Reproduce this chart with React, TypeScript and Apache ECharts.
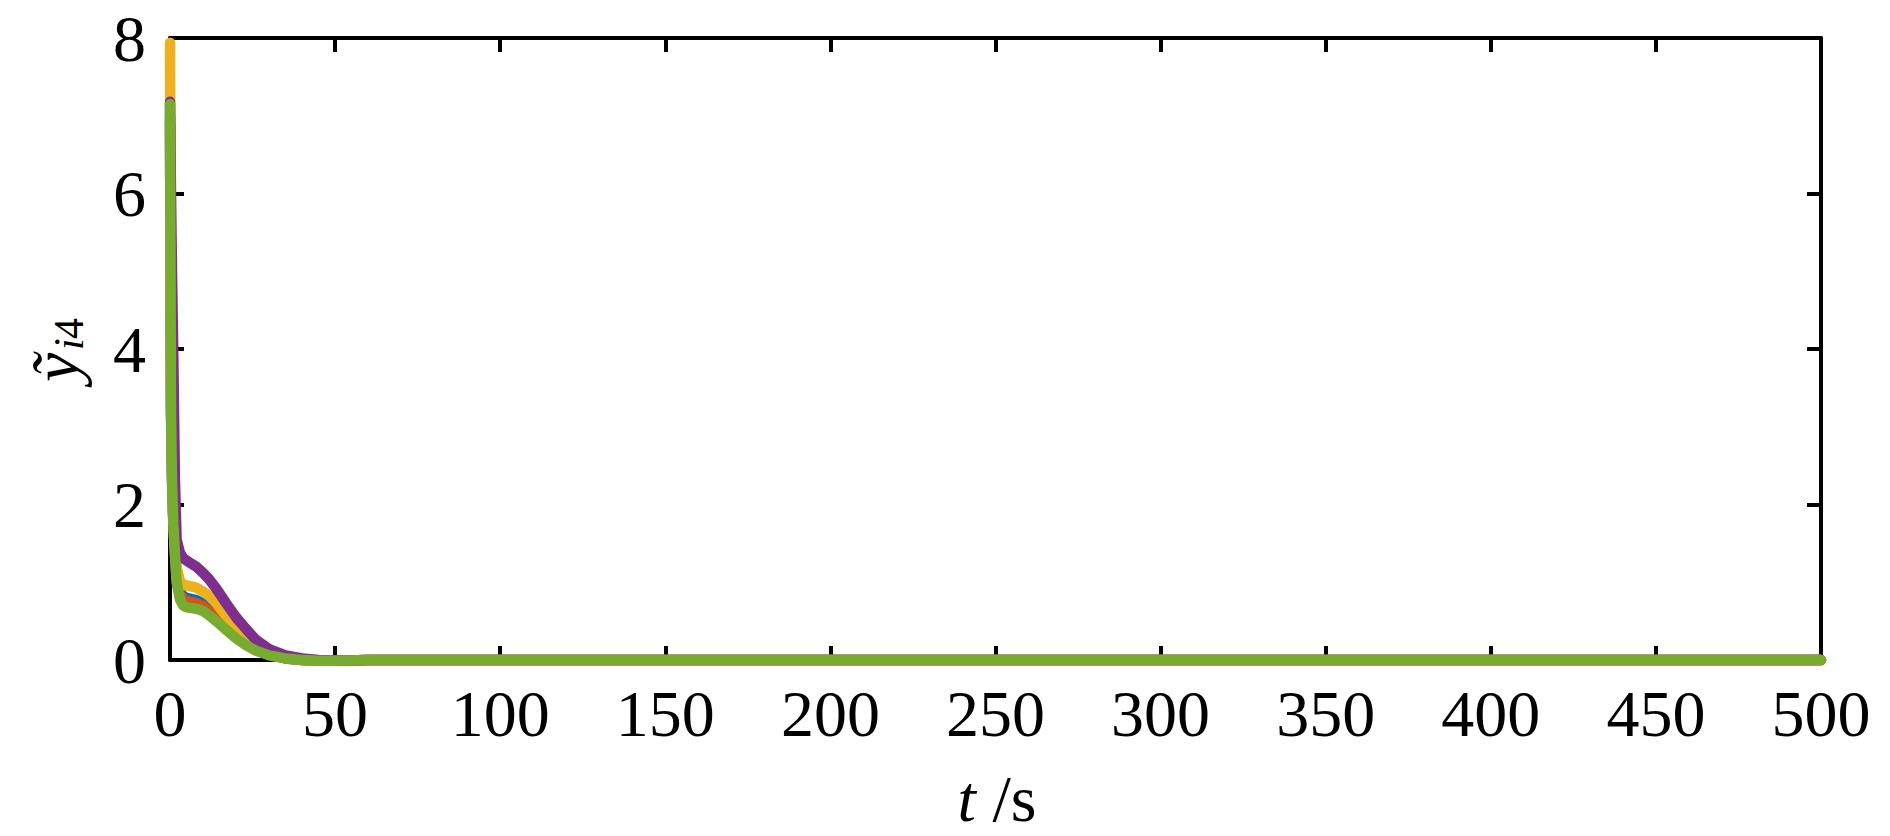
import React, { useEffect, useRef } from "react";
import * as echarts from "echarts";

// time samples (s)
const time = [0, 0.3, 0.6, 1, 1.5, 2, 3, 4, 5, 6, 8, 10, 12, 14, 17, 20, 23, 26, 30, 35, 40, 45, 50, 60, 500];

// series values  ỹ_i4 for i = 1..5
const agent1 = [7.0, 3.3, 2.4, 1.8, 1.4, 1.08, 0.88, 0.82, 0.8, 0.79, 0.77, 0.73, 0.66, 0.58, 0.45, 0.33, 0.22, 0.14, 0.07, 0.02, 0.0, -0.01, -0.01, 0, 0];
const agent2 = [6.9, 3.25, 2.35, 1.77, 1.37, 1.04, 0.84, 0.78, 0.76, 0.75, 0.73, 0.69, 0.62, 0.55, 0.43, 0.31, 0.21, 0.13, 0.07, 0.02, 0.0, -0.01, -0.01, 0, 0];
const agent3 = [7.94, 3.6, 2.6, 2.0, 1.5, 1.2, 1.02, 0.97, 0.96, 0.95, 0.93, 0.88, 0.82, 0.73, 0.57, 0.42, 0.29, 0.18, 0.09, 0.03, 0.0, -0.01, -0.01, 0, 0];
const agent4 = [7.18, 6.0, 5.0, 3.9, 2.3, 1.55, 1.38, 1.31, 1.28, 1.25, 1.2, 1.12, 1.03, 0.92, 0.73, 0.55, 0.4, 0.26, 0.14, 0.06, 0.02, 0.0, -0.01, 0, 0];
const agent5 = [7.15, 3.2, 2.3, 1.75, 1.35, 1.0, 0.78, 0.7, 0.68, 0.67, 0.66, 0.63, 0.57, 0.5, 0.39, 0.28, 0.19, 0.12, 0.06, 0.02, 0.0, -0.01, -0.01, 0, 0];

const seriesNames = ["i=1", "i=2", "i=3", "i=4", "i=5"];
const seriesValues = [agent1, agent2, agent3, agent4, agent5];
const seriesColors = ["#0072BD", "#D95319", "#EDB120", "#7E2F8E", "#77AC30"];

const FONT = "'Liberation Serif', 'Times New Roman', serif";

export default function App() {
  const ref = useRef<HTMLDivElement>(null);
  useEffect(() => {
    if (!ref.current) return;
    const chart = echarts.init(ref.current, undefined, { renderer: "svg" });
    const axisLine = { show: true, onZero: false, lineStyle: { color: "#000", width: 4 } };
    const tick = { show: true, inside: true, length: 14, lineStyle: { color: "#000", width: 4 } };
    const option: any = {
      animation: false,
      backgroundColor: "#fff",
      grid: { left: 170, right: 69, top: 38, bottom: 176, containLabel: false },
      xAxis: [
        {
          type: "value",
          position: "bottom",
          min: 0,
          max: 500,
          interval: 50,
          axisLine,
          axisTick: tick,
          splitLine: { show: false },
          axisLabel: { show: true, color: "#000", fontFamily: FONT, fontSize: 66, margin: 20 },
        },
        {
          type: "value",
          position: "top",
          min: 0,
          max: 500,
          interval: 50,
          axisLine,
          axisTick: tick,
          splitLine: { show: false },
          axisLabel: { show: false },
        },
      ],
      yAxis: [
        {
          type: "value",
          position: "left",
          min: 0,
          max: 8,
          interval: 2,
          axisLine,
          axisTick: tick,
          splitLine: { show: false },
          axisLabel: { show: true, color: "#000", fontFamily: FONT, fontSize: 66, margin: 24 },
        },
        {
          type: "value",
          position: "right",
          min: 0,
          max: 8,
          interval: 2,
          axisLine,
          axisTick: tick,
          splitLine: { show: false },
          axisLabel: { show: false },
        },
      ],
      series: seriesValues.map((vals, k) => ({
        type: "line",
        name: seriesNames[k],
        xAxisIndex: 0,
        yAxisIndex: 0,
        data: time.map((t, i) => [t, vals[i]]),
        showSymbol: false,
        symbol: "none",
        clip: false,
        lineStyle: { color: seriesColors[k], width: 10.5, cap: "round", join: "round" },
        z: 2 + k,
      })),
      graphic: [
        {
          type: "group",
          x: 55,
          y: 352,
          rotation: Math.PI / 2,
          children: [
            {
              type: "text",
              x: -30,
              y: 0,
              style: { text: "ỹ", font: `italic 66px ${FONT}`, fill: "#000", align: "left", verticalAlign: "middle" },
            },
            {
              type: "text",
              x: 2,
              y: 14,
              style: { text: "i", font: `italic 42px ${FONT}`, fill: "#000", align: "left", verticalAlign: "middle" },
            },
            {
              type: "text",
              x: 13,
              y: 14,
              style: { text: "4", font: `42px ${FONT}`, fill: "#000", align: "left", verticalAlign: "middle" },
            },
          ],
        },
        {
          type: "text",
          x: 997,
          y: 798,
          style: {
            text: "{t|t} {s|/s}",
            align: "center",
            verticalAlign: "middle",
            rich: {
              t: { font: `italic 66px ${FONT}`, fill: "#000" },
              s: { font: `66px ${FONT}`, fill: "#000" },
            },
            font: `66px ${FONT}`,
            fill: "#000",
          },
        },
      ],
    };
    chart.setOption(option);
    return () => chart.dispose();
  }, []);
  return (
    <div
      ref={ref}
      style={{ position: "fixed", left: 0, top: 0, width: 1890, height: 836, background: "#fff" }}
    />
  );
}
